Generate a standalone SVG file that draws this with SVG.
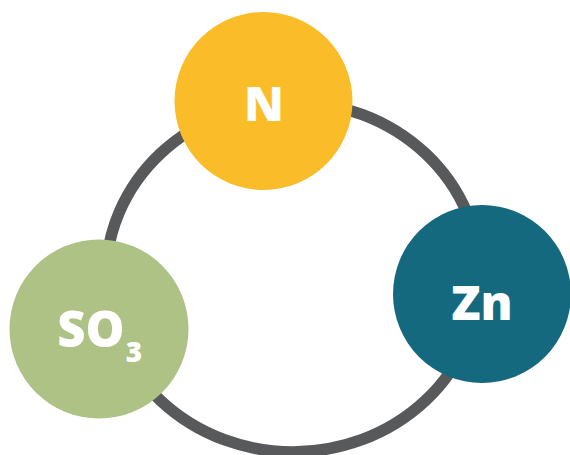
<svg xmlns="http://www.w3.org/2000/svg" width="570" height="455" viewBox="0 0 570 455">
<style>
.ring{fill:none;stroke:#58595B;stroke-width:11.5}
.lbl{fill:#FFFFFF;font-family:"Open Sans","Liberation Sans",Arial,sans-serif;font-weight:800;text-anchor:middle}
</style>
<rect width="570" height="455" fill="#FFFFFF"/>
<g id="connectors">
<ellipse class="ring" cx="293" cy="277" rx="187" ry="175"/>
</g>
<g id="node-N">
<circle cx="263.5" cy="101" r="89" fill="#FBBC2A"/>
<text class="lbl" x="264" y="121" font-size="48">N</text>
</g>
<g id="node-Zn">
<circle cx="482" cy="294" r="89" fill="#15697F"/>
<text class="lbl" x="482" y="320" font-size="48">Zn</text>
</g>
<g id="node-SO3">
<circle cx="99" cy="329" r="89.5" fill="#AEC285"/>
<text class="lbl" x="91" y="347" font-size="49">SO</text>
<text class="lbl" x="134" y="362" font-size="28">3</text>
</g>
</svg>
